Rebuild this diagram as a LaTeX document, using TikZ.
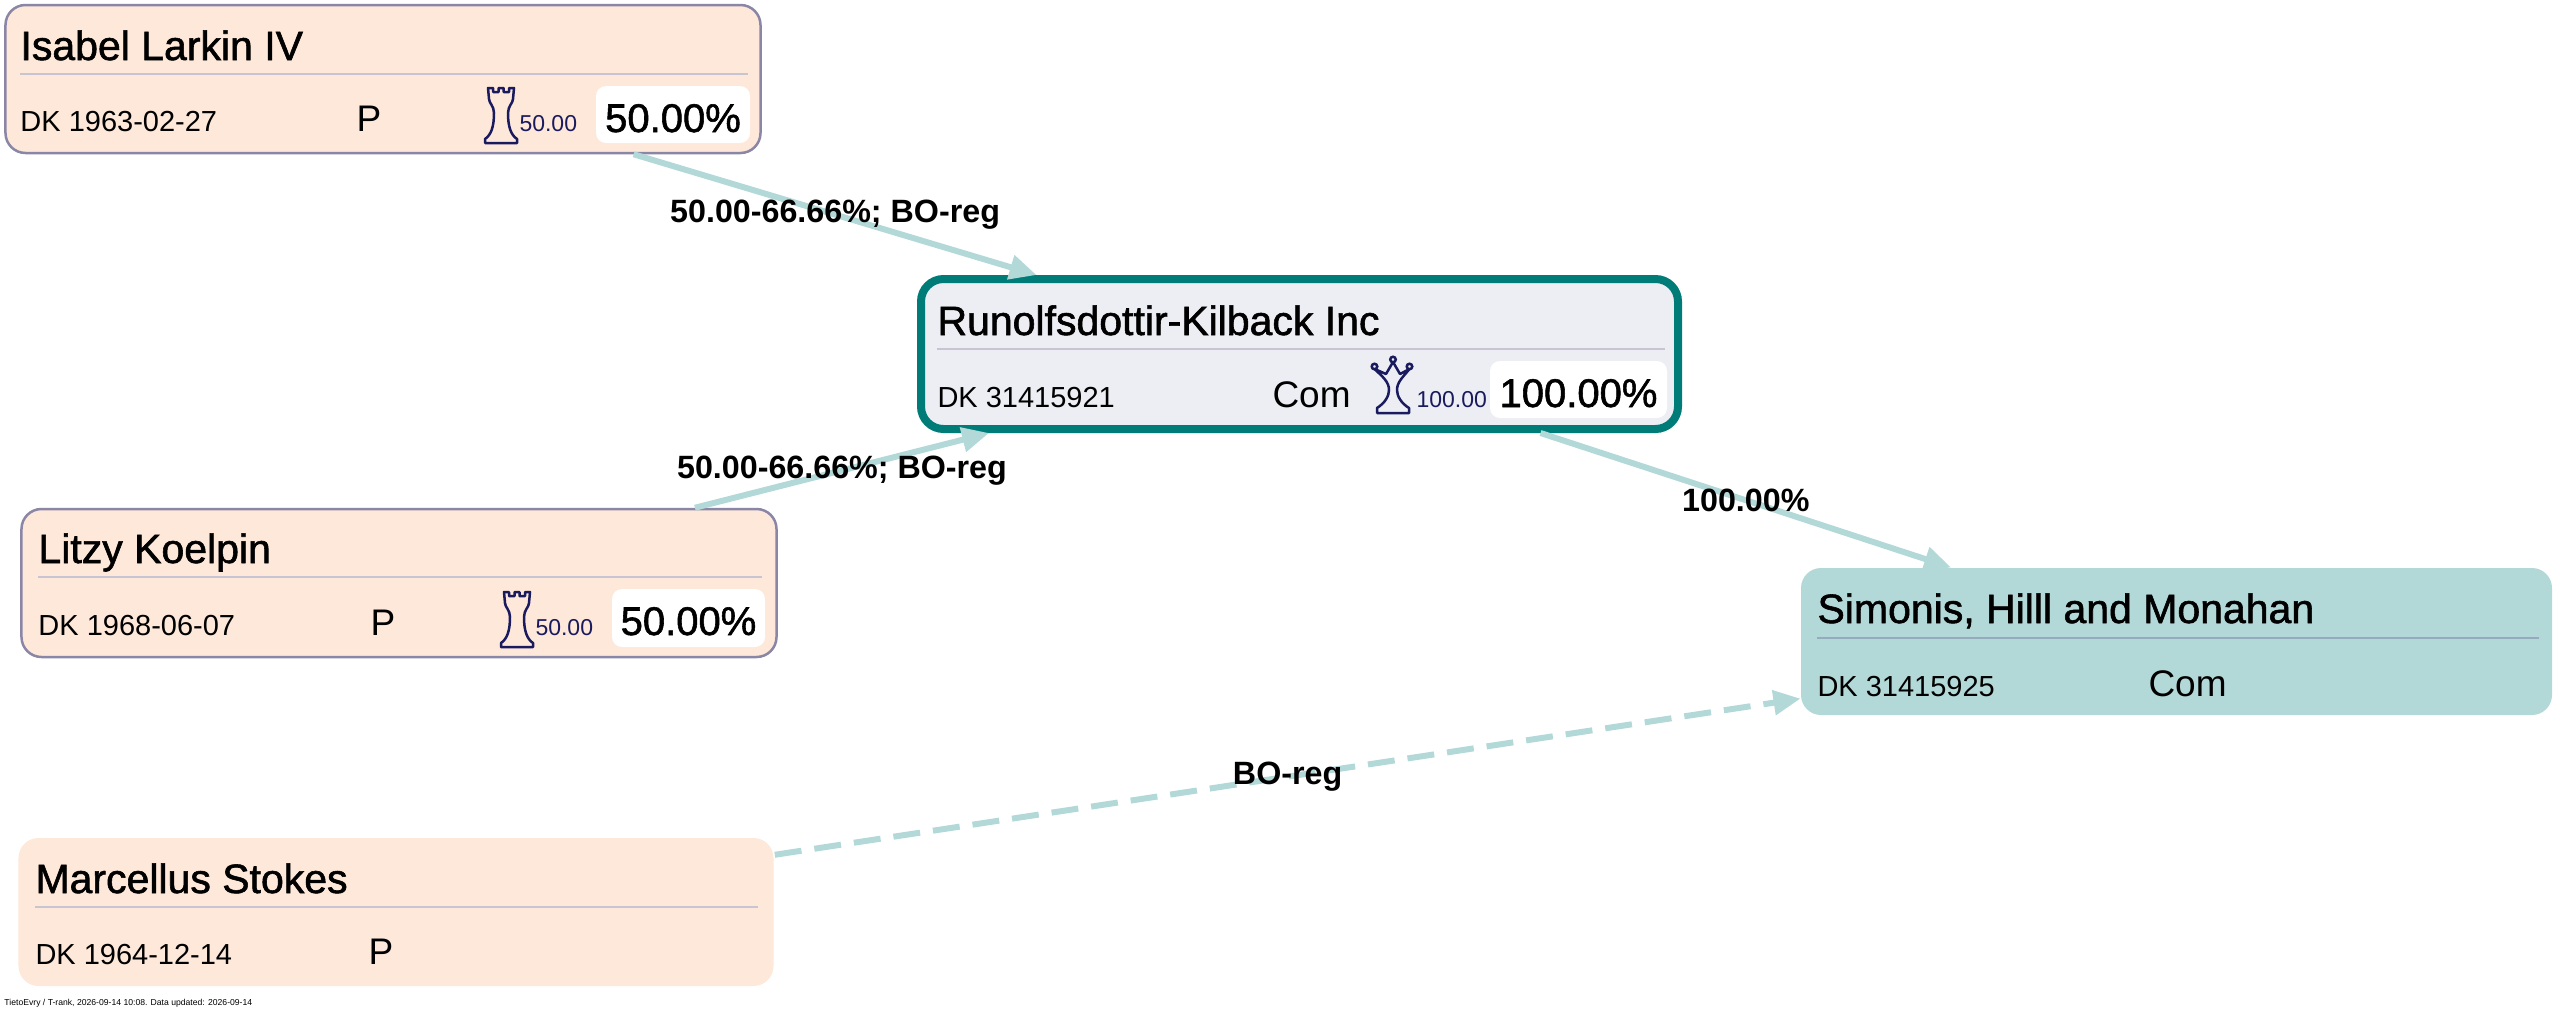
\documentclass[tikz,border=0pt]{standalone}
\usepackage{fontspec}
\setmainfont{Liberation Sans}
\newfontfamily\mediumsans{Liberation Sans}[FakeBold=1.4]
\usetikzlibrary{arrows.meta}

\definecolor{peach}{RGB}{254,232,217}
\definecolor{personedge}{RGB}{138,134,166}
\definecolor{darkteal}{RGB}{0,124,120}
\definecolor{paleteal}{RGB}{179,216,216}
\definecolor{firmgrey}{RGB}{236,238,243}
\definecolor{iconblue}{RGB}{26,26,94}
\definecolor{sepgrey}{RGB}{200,196,212}
\definecolor{septeal}{RGB}{150,172,190}

\tikzset{
  personbox/.style={rectangle, rounded corners=8pt, fill=peach, draw=personedge, line width=1pt,
    minimum width=302pt, minimum height=59.2pt, inner sep=0},
  mainbox/.style={rectangle, rounded corners=9pt, fill=firmgrey, draw=darkteal, line width=3.2pt,
    minimum width=302.8pt, minimum height=60pt, inner sep=0},
  firmbox/.style={rectangle, rounded corners=8pt, fill=paleteal,
    minimum width=300.4pt, minimum height=58.8pt, inner sep=0},
  nametext/.style={anchor=base west, inner sep=0, font=\mediumsans\fontsize{16.4}{18}\selectfont},
  idtext/.style={anchor=base west, inner sep=0, font=\fontsize{11.6}{13}\selectfont},
  kindtext/.style={anchor=base west, inner sep=0, font=\fontsize{14.8}{16}\selectfont},
  sharetext/.style={anchor=base west, inner sep=0, text=iconblue, font=\fontsize{9.2}{10}\selectfont},
  pcttext/.style={anchor=base, inner sep=0, font=\mediumsans\fontsize{16}{18}\selectfont},
  edgelabel/.style={inner sep=1pt, font=\bfseries\fontsize{12.9}{14}\selectfont},
  sepline/.style={draw=sepgrey, line width=0.6pt},
  ownedge/.style={draw=paleteal, line width=2.4pt, -{Triangle[length=10.8pt, width=9.6pt]}},
  boedge/.style={ownedge, dash pattern=on 10.8pt off 5.2pt},
  pctbox/.style={fill=white, rounded corners=4pt},
  rook/.pic={
    \draw[iconblue, line width=1pt, line join=round]
      (-16,0) -- (16,0) -- (16,-4) .. controls (10,-8) and (7,-16) .. (7,-30)
      .. controls (7,-37) and (12,-40) .. (12,-44) -- (13,-55) -- (8,-55) -- (8,-51)
      -- (2.5,-51) -- (2.5,-55) -- (-2.5,-55) -- (-2.5,-51) -- (-8,-51) -- (-8,-55)
      -- (-13,-55) -- (-12,-44) .. controls (-12,-40) and (-7,-37) .. (-7,-30)
      .. controls (-7,-16) and (-10,-8) .. (-16,-4) -- cycle;
  },
  queen/.pic={
    \draw[iconblue, line width=1pt, line join=round]
      (-16,0) -- (16,0) -- (16,-5) .. controls (8,-10) and (4,-17) .. (4,-23)
      .. controls (4,-31) and (10,-36) .. (16.5,-44) -- (7,-39) -- (0,-51)
      -- (-7,-39) -- (-18.5,-44) .. controls (-10,-36) and (-4,-31) .. (-4,-23)
      .. controls (-4,-17) and (-8,-10) .. (-16,-5) -- cycle;
    \draw[iconblue, line width=1pt] (16.5,-46.5) circle (1.1pt) (0,-53.5) circle (1.1pt)
      (-18.5,-46.5) circle (1.1pt);
  }
}

\begin{document}
\begin{tikzpicture}[x=0.4pt, y=-0.4pt]
\useasboundingbox (0,0) rectangle (2560,1014);

\node[personbox] (isabel) at (383,79) {};
\node[personbox] (litzy) at (399,583) {};
\node[personbox, draw=none] (marcellus) at (396,912) {};
\node[mainbox] (runolf) at (1299.5,354) {};
\node[firmbox] (simonis) at (2176.5,641.5) {};

\draw[ownedge] (isabel) -- node[edgelabel] (isabelrunolf) {50.00-66.66\%; BO-reg} (runolf);
\draw[ownedge] (litzy) -- node[edgelabel] (litzyrunolf) {50.00-66.66\%; BO-reg} (runolf);
\draw[ownedge] (runolf) -- node[edgelabel] (runolfsimonis) {100.00\%} (simonis);
\draw[boedge] (marcellus) -- node[edgelabel] (marcellussimonis) {BO-reg} (simonis);

\node[nametext] (isabelname) at (20,60) {Isabel Larkin IV};
\draw[sepline] (20,74) -- (748,74);
\node[idtext] (isabelid) at (20,131) {DK 1963-02-27};
\node[kindtext] (isabelkind) at (356,131) {P};
\pic at (501,143) {rook};
\node[sharetext] (isabelshare) at (519,131) {50.00};
\fill[pctbox] (596,86) rectangle (750,143);
\node[pcttext] (isabelpct) at (673,132) {50.00\%};

\node[nametext] (litzyname) at (38,563) {Litzy Koelpin};
\draw[sepline] (38,577) -- (762,577);
\node[idtext] (litzyid) at (38,635) {DK 1968-06-07};
\node[kindtext] (litzykind) at (370,635) {P};
\pic at (517,647) {rook};
\node[sharetext] (litzyshare) at (535,635) {50.00};
\fill[pctbox] (612,589) rectangle (765,647);
\node[pcttext] (litzypct) at (688.5,635) {50.00\%};

\node[nametext] (marcellusname) at (35,893) {Marcellus Stokes};
\draw[sepline] (35,907) -- (758,907);
\node[idtext] (marcellusid) at (35,964) {DK 1964-12-14};
\node[kindtext] (marcelluskind) at (368,964) {P};

\node[nametext] (runolfname) at (937,335) {Runolfsdottir-Kilback Inc};
\draw[sepline] (937,349) -- (1665,349);
\node[idtext] (runolfid) at (937,407) {DK 31415921};
\node[kindtext] (runolfkind) at (1272,407) {Com};
\pic at (1393,413) {queen};
\node[sharetext] (runolfshare) at (1416,407) {100.00};
\fill[pctbox] (1490,361) rectangle (1667,418);
\node[pcttext] (runolfpct) at (1578.5,407) {100.00\%};

\node[nametext] (simonisname) at (1817,623) {Simonis, Hilll and Monahan};
\draw[sepline, draw=septeal] (1817,638) -- (2539,638);
\node[idtext] (simonisid) at (1817,696) {DK 31415925};
\node[kindtext] (simoniskind) at (2148,696) {Com};

\node[anchor=base west, inner sep=0, font=\fontsize{3.45}{4}\selectfont] (footer) at (4,1005)
  {TietoEvry / T-rank, 2026-09-14 10:08. Data updated: 2026-09-14};
\end{tikzpicture}
\end{document}
